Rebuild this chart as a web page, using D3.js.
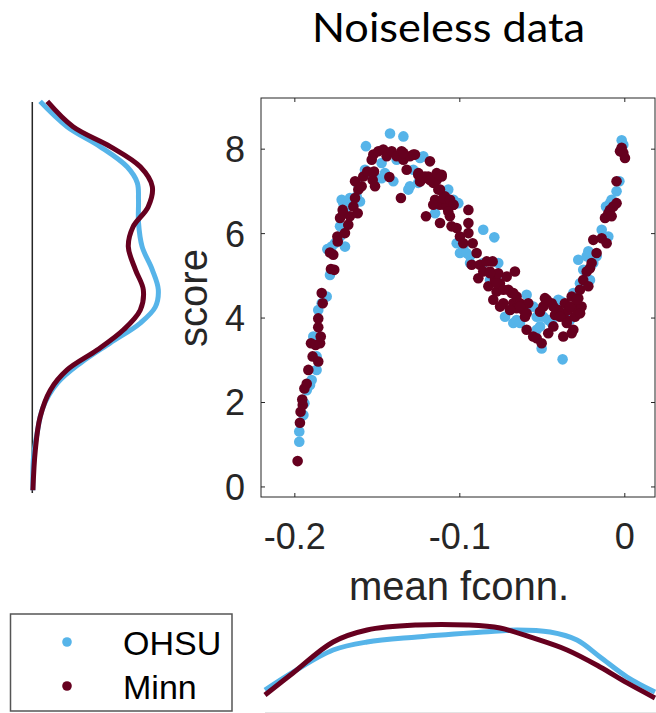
<!DOCTYPE html>
<html><head><meta charset="utf-8">
<script src="https://cdn.jsdelivr.net/npm/d3@7"></script>
<style>body{margin:0;background:#fff}svg{display:block}</style>
</head><body>
<svg id="c" width="656" height="713"></svg>
<script>
// ---- data ----
const seriesNames = ["OHSU", "Minn"];
const seriesColors = ["#56B4E9", "#66001F"];
const xTicks = [-0.2, -0.1, 0];
const xTickLabels = ["-0.2", "-0.1", "0"];
const yTicks = [0, 2, 4, 6, 8];
const yTickLabels = ["0", "2", "4", "6", "8"];

const ohsuX = [-0.1970,-0.1970,-0.1945,-0.1939,-0.1925,-0.1905,-0.1895,-0.1865,-0.1865,-0.1885,-0.1855,-0.1834,-0.1804,-0.1784,-0.1800,-0.1774,-0.1754,-0.1723,-0.1693,-0.1723,-0.1703,-0.1713,-0.1683,-0.1663,-0.1622,-0.1602,-0.1612,-0.1572,-0.1562,-0.1566,-0.1541,-0.1501,-0.1471,-0.1471,-0.1451,-0.1420,-0.1339,-0.1400,-0.1380,-0.1309,-0.1299,-0.1279,-0.1238,-0.1218,-0.1249,-0.1147,-0.1137,-0.1067,-0.1077,-0.1036,-0.1006,-0.1016,-0.0996,-0.0976,-0.0956,-0.0935,-0.0855,-0.0788,-0.0935,-0.0855,-0.0814,-0.0774,-0.0764,-0.0723,-0.0693,-0.0673,-0.0653,-0.0632,-0.0612,-0.0592,-0.0552,-0.0531,-0.0531,-0.0511,-0.0501,-0.0491,-0.0461,-0.0440,-0.0400,-0.0380,-0.0374,-0.0360,-0.0329,-0.0309,-0.0279,-0.0269,-0.0249,-0.0228,-0.0218,-0.0208,-0.0188,-0.0168,-0.0137,-0.0127,-0.0097,-0.0111,-0.0087,-0.0077,-0.0047,-0.0030,-0.0016,-0.0006];
const ohsuY = [1.06,1.30,1.69,1.97,2.28,2.40,2.52,2.76,3.08,3.55,4.18,4.34,4.50,5.01,5.62,5.68,5.76,5.92,5.68,6.16,6.71,6.79,6.63,6.83,6.87,6.75,7.15,7.50,7.42,8.06,7.38,7.30,7.30,7.66,7.42,8.36,8.29,7.23,7.74,7.03,7.11,7.50,7.78,7.82,7.19,6.47,6.71,7.03,6.79,6.79,6.71,5.76,5.53,5.68,5.53,5.45,6.08,5.90,5.29,5.29,4.89,4.97,5.29,4.02,4.18,3.87,3.94,3.87,4.26,4.54,4.26,4.02,3.71,3.79,3.27,4.02,3.94,3.87,4.42,4.38,3.01,4.10,3.94,4.58,5.37,4.81,5.13,5.45,5.57,4.89,5.29,5.45,6.08,5.88,5.92,6.63,6.71,6.79,6.99,7.23,8.20,8.09];

const minnX = [-0.1980,-0.1966,-0.1962,-0.1949,-0.1952,-0.1939,-0.1925,-0.1915,-0.1889,-0.1855,-0.1899,-0.1871,-0.1844,-0.1840,-0.1855,-0.1855,-0.1828,-0.1834,-0.1778,-0.1758,-0.1784,-0.1764,-0.1739,-0.1737,-0.1693,-0.1723,-0.1703,-0.1673,-0.1663,-0.1707,-0.1642,-0.1616,-0.1632,-0.1612,-0.1632,-0.1592,-0.1582,-0.1558,-0.1525,-0.1511,-0.1517,-0.1531,-0.1521,-0.1491,-0.1461,-0.1424,-0.1440,-0.1410,-0.1380,-0.1350,-0.1354,-0.1339,-0.1319,-0.1299,-0.1269,-0.1249,-0.1218,-0.1202,-0.1178,-0.1188,-0.1158,-0.1137,-0.1107,-0.1127,-0.1147,-0.1117,-0.1117,-0.1087,-0.1077,-0.1057,-0.1047,-0.1036,-0.1016,-0.0996,-0.0976,-0.0945,-0.0945,-0.0945,-0.0919,-0.0895,-0.0925,-0.0875,-0.0885,-0.0855,-0.0834,-0.0798,-0.0824,-0.0814,-0.0784,-0.0774,-0.0764,-0.0754,-0.0733,-0.0703,-0.0713,-0.0663,-0.0683,-0.0673,-0.0653,-0.0632,-0.0612,-0.0602,-0.0592,-0.0653,-0.0582,-0.0552,-0.0531,-0.0501,-0.0511,-0.0481,-0.0491,-0.0461,-0.0440,-0.0430,-0.0420,-0.0400,-0.0380,-0.0370,-0.0360,-0.0339,-0.0349,-0.0319,-0.0309,-0.0319,-0.0289,-0.0299,-0.0279,-0.0269,-0.0259,-0.0249,-0.0228,-0.0218,-0.0208,-0.0198,-0.0188,-0.0168,-0.0137,-0.0107,-0.0117,-0.0097,-0.0087,-0.0077,-0.0067,-0.0047,-0.0047,-0.0026,-0.0016,-0.0006,0.0004,
  -0.1339,-0.1279,-0.1248,-0.1208,-0.1178,-0.1137,-0.1107,-0.1117,-0.1097,-0.1056,-0.1036,-0.1067,-0.1158,-0.1238,
  -0.0814,-0.0773,-0.0733,-0.0673,-0.0632,-0.0592,-0.0794,-0.0753,-0.0693,-0.0470,-0.0430,-0.0390,-0.0329,-0.0289,-0.0349,-0.0268];
const minnY = [0.60,1.51,1.77,1.93,2.06,2.32,2.43,2.76,3.08,2.96,3.39,3.35,3.39,3.55,3.77,3.98,4.34,4.58,5.15,5.13,5.54,5.49,5.92,5.80,6.00,6.36,6.47,6.20,6.40,6.55,6.63,6.47,6.83,7.03,7.23,7.11,7.34,7.46,7.26,7.11,7.46,7.74,7.86,7.94,7.98,7.33,7.82,7.94,7.82,7.94,6.83,7.74,7.50,7.82,7.86,7.38,7.30,6.40,7.70,7.34,7.19,7.26,7.38,7.03,6.79,6.67,6.24,6.87,6.63,6.40,6.16,6.67,6.12,5.92,5.76,6.55,6.24,6.00,5.76,5.53,5.25,5.25,4.93,5.09,5.33,5.33,4.74,5.09,4.89,4.62,5.05,4.81,4.34,4.66,4.97,5.09,4.58,4.34,4.50,4.34,4.18,4.02,3.71,4.22,4.34,3.55,3.51,3.39,4.14,4.46,4.26,3.63,4.34,3.79,4.06,4.18,4.10,3.55,4.34,4.18,3.94,3.63,3.71,4.50,4.22,4.02,4.46,4.66,4.26,4.89,5.09,4.74,5.17,5.29,5.84,5.53,5.88,5.76,6.36,6.47,6.55,6.40,6.63,6.71,7.23,7.94,8.02,7.90,7.78,
  7.90,7.86,7.42,7.34,7.26,7.42,7.34,7.03,6.83,6.79,6.67,6.51,6.67,7.22,
  5.05,4.81,4.66,4.58,4.26,4.10,4.42,4.26,4.18,4.42,4.26,4.02,4.26,4.42,3.87,4.10];

// marginal density of score (left panel)
const ohsuScoreGrid = [9.12,8.52,8.05,7.57,7.19,6.79,6.25,5.68,5.13,4.66,4.25,3.87,3.40,2.92,2.45,1.88,1.26,0.69,-0.09];
const ohsuScoreDens = [0.013,0.058,0.113,0.158,0.175,0.177,0.177,0.183,0.200,0.210,0.205,0.180,0.130,0.080,0.042,0.018,0.008,0.002,0.001];
const minnScoreGrid = [9.12,8.52,8.05,7.57,7.10,6.62,6.15,5.68,5.13,4.66,4.18,3.71,3.23,2.76,2.28,1.64,0.86,-0.09];
const minnScoreDens = [0.025,0.068,0.130,0.180,0.200,0.193,0.168,0.160,0.172,0.185,0.180,0.152,0.108,0.058,0.030,0.013,0.005,0.001];

// marginal density of mean fconn (bottom panel)
const ohsuFcGrid = [-0.2178,-0.2008,-0.1765,-0.1559,-0.1256,-0.0856,-0.0650,-0.0450,-0.0287,-0.0147,0.0017,0.0186];
const ohsuFcDens = [1.42,2.54,3.92,4.42,4.73,5.04,5.17,5.04,4.54,3.48,2.23,1.29];
const minnFcGrid = [-0.2178,-0.2008,-0.1765,-0.1559,-0.1256,-0.0953,-0.0753,-0.0553,-0.0347,-0.0147,0.0017,0.0186];
const minnFcDens = [1.11,2.48,4.42,5.17,5.48,5.48,5.29,4.67,3.92,2.86,1.86,0.92];

// ---- drawing ----
const svg = d3.select("#c");
const axisColor = "#262626";
const font = "'Liberation Sans', Arial, Helvetica, sans-serif";

const x = d3.scaleLinear().domain([-0.2202, 0.0186]).range([261, 655]);
const y = d3.scaleLinear().domain([-0.25, 9.2]).range([497, 98]);
const L = 261, R = 655, T = 98, B = 497;
const rDot = 5.3;

// title
svg.append("text").attr("x", 448.5).attr("y", 42).attr("text-anchor", "middle")
  .attr("font-family", "Lato, 'Open Sans', sans-serif").attr("font-size", 40)
  .attr("textLength", 273).attr("lengthAdjust", "spacingAndGlyphs")
  .attr("fill", "#000").text("Noiseless data");

// scatter points
const ohsuPts = ohsuX.map((v, i) => [v, ohsuY[i]]);
const minnPts = minnX.map((v, i) => [v, minnY[i]]);
const gPts = svg.append("g");
gPts.selectAll("circle.o").data(ohsuPts).join("circle").attr("class", "o")
  .attr("cx", d => x(d[0])).attr("cy", d => y(d[1])).attr("r", rDot).attr("fill", seriesColors[0]);
gPts.selectAll("circle.m").data(minnPts).join("circle").attr("class", "m")
  .attr("cx", d => x(d[0])).attr("cy", d => y(d[1])).attr("r", rDot).attr("fill", seriesColors[1]);

// axes box
const gAx = svg.append("g");
gAx.append("rect").attr("x", L).attr("y", T).attr("width", R - L).attr("height", B - T)
  .attr("fill", "none").attr("stroke", axisColor).attr("stroke-width", 1);
const tl = 4;
gAx.append("g").attr("transform", `translate(0,${B})`)
  .call(d3.axisBottom(x).tickValues(xTicks).tickSize(-tl).tickFormat((d, i) => xTickLabels[i]).tickPadding(26))
  .call(g => { g.select(".domain").remove(); g.selectAll("line").attr("stroke", axisColor);
    g.selectAll("text").attr("font-family", font).attr("font-size", 36).attr("fill", axisColor); });
gAx.append("g").attr("transform", `translate(0,${T})`)
  .call(d3.axisTop(x).tickValues(xTicks).tickSize(-tl).tickFormat(""))
  .call(g => { g.select(".domain").remove(); g.selectAll("line").attr("stroke", axisColor); });
gAx.append("g").attr("transform", `translate(${L},0)`)
  .call(d3.axisLeft(y).tickValues(yTicks).tickSize(-tl).tickFormat((d, i) => yTickLabels[i]).tickPadding(16))
  .call(g => { g.select(".domain").remove(); g.selectAll("line").attr("stroke", axisColor);
    g.selectAll("text").attr("font-family", font).attr("font-size", 36).attr("fill", axisColor).attr("dy", "0.36em"); });
gAx.append("g").attr("transform", `translate(${R},0)`)
  .call(d3.axisRight(y).tickValues(yTicks).tickSize(-tl).tickFormat(""))
  .call(g => { g.select(".domain").remove(); g.selectAll("line").attr("stroke", axisColor); });

// axis labels
svg.append("text").attr("x", 459).attr("y", 600).attr("text-anchor", "middle")
  .attr("font-family", font).attr("font-size", 40).attr("fill", axisColor).text("mean fconn.");
svg.append("text").attr("transform", "translate(207,298) rotate(-90)").attr("text-anchor", "middle")
  .attr("font-family", font).attr("font-size", 40).attr("fill", axisColor).text("score");

// left marginal density
const dL = d3.scaleLinear().domain([0, 0.2]).range([32.3, 152.3]);
svg.append("line").attr("x1", 32.3).attr("x2", 32.3).attr("y1", 102).attr("y2", 493)
  .attr("stroke", axisColor).attr("stroke-width", 1.5);
const lineL = d3.line().x(d => dL(d[1])).y(d => y(d[0])).curve(d3.curveCatmullRom.alpha(0.5));
svg.append("path").attr("d", lineL(ohsuScoreGrid.map((s, i) => [s, ohsuScoreDens[i]])))
  .attr("fill", "none").attr("stroke", seriesColors[0]).attr("stroke-width", 5);
svg.append("path").attr("d", lineL(minnScoreGrid.map((s, i) => [s, minnScoreDens[i]])))
  .attr("fill", "none").attr("stroke", seriesColors[1]).attr("stroke-width", 5);

// bottom marginal density
const dB = d3.scaleLinear().domain([0, 5]).range([712.7, 632.7]);
svg.append("line").attr("x1", 265).attr("x2", 656).attr("y1", 712.5).attr("y2", 712.5)
  .attr("stroke", "#e3e3e3").attr("stroke-width", 1);
const lineB = d3.line().x(d => x(d[0])).y(d => dB(d[1])).curve(d3.curveCatmullRom.alpha(0.5));
svg.append("path").attr("d", lineB(ohsuFcGrid.map((s, i) => [s, ohsuFcDens[i]])))
  .attr("fill", "none").attr("stroke", seriesColors[0]).attr("stroke-width", 5);
svg.append("path").attr("d", lineB(minnFcGrid.map((s, i) => [s, minnFcDens[i]])))
  .attr("fill", "none").attr("stroke", seriesColors[1]).attr("stroke-width", 5);

// legend
const gL = svg.append("g");
gL.append("rect").attr("x", 10.5).attr("y", 614).attr("width", 221.5).attr("height", 97)
  .attr("fill", "#fff").attr("stroke", "#555").attr("stroke-width", 1.5);
seriesNames.forEach((n, i) => {
  const cy = 642 + i * 44;
  gL.append("circle").attr("cx", 67).attr("cy", cy).attr("r", 4.8).attr("fill", seriesColors[i]);
  gL.append("text").attr("x", 123).attr("y", cy + 13).attr("font-family", font).attr("font-size", 34)
    .attr("fill", "#000").text(n);
});
</script>
</body></html>
